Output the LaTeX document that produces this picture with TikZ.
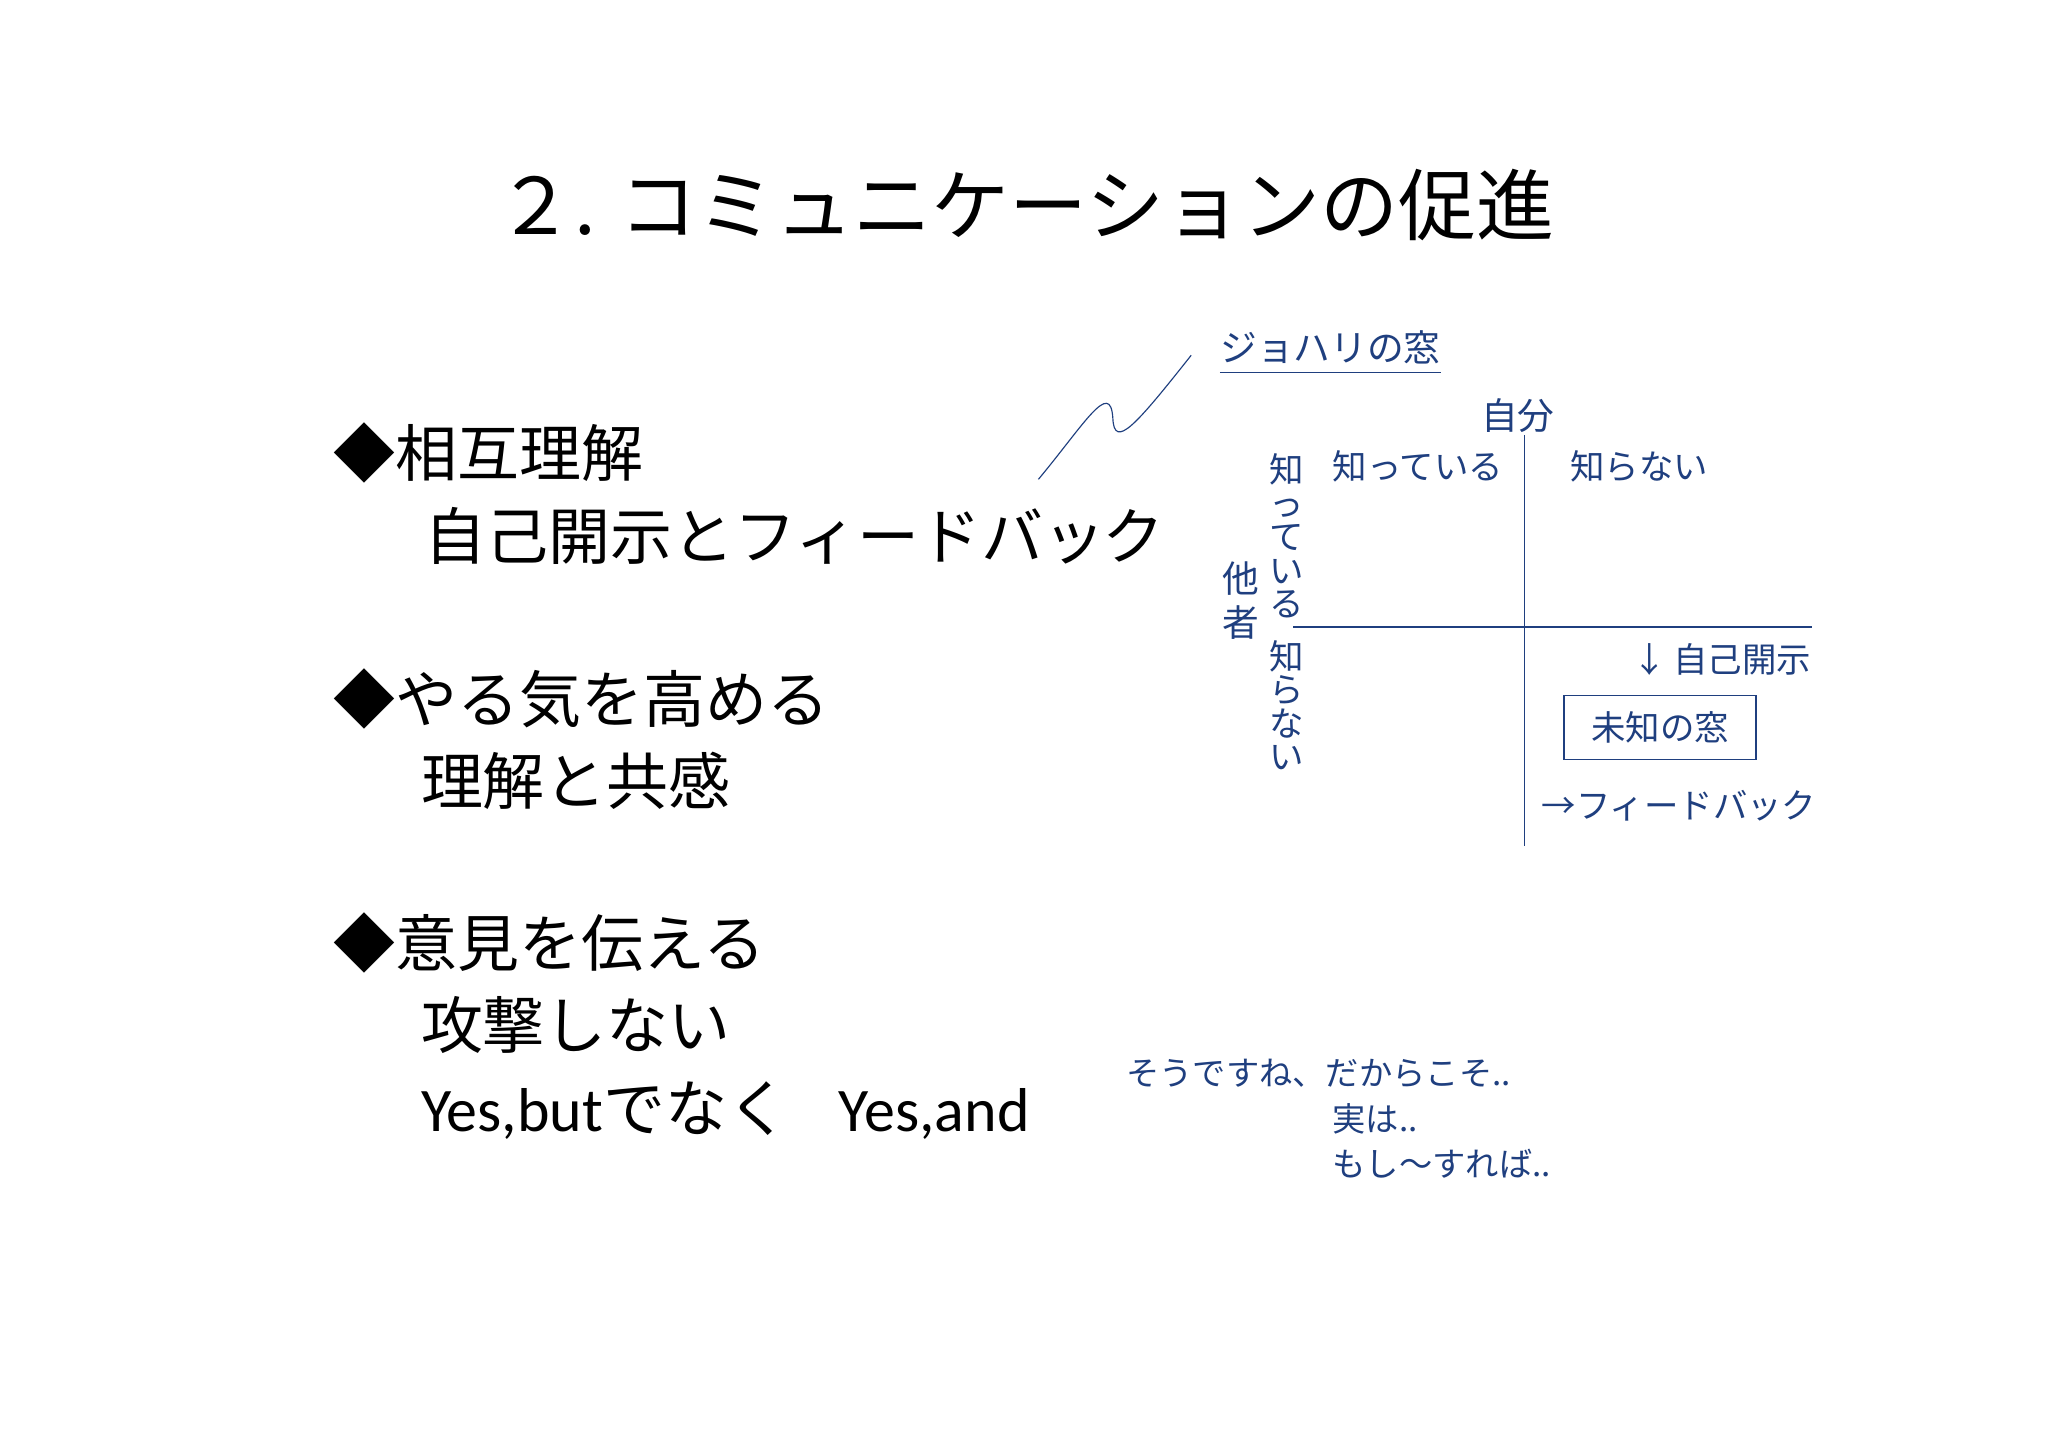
\documentclass[tikz,border=0pt]{standalone}
\usepackage{fontspec}
\usetikzlibrary{calc}
\setmainfont{Noto Sans CJK JP}
\newfontfamily\lat{Carlito}
\definecolor{jb}{HTML}{1F3F7F}
\begin{document}
\begin{tikzpicture}[x=0.02cm,y=-0.02cm,
  big/.style={inner sep=0,anchor=west,font=\fontsize{27}{30}\selectfont},
  blu/.style={inner sep=0,text=jb,font=\fontsize{15}{17}\selectfont},
  vert/.style={inner sep=0,text=jb,align=center,font=\fontsize{15}{14.6}\selectfont}]
\useasboundingbox[fill=white] (0,0) rectangle (1568,1109);
\node[inner sep=0,font=\fontsize{34}{40}\selectfont] (title) at (785,157) {２. コミュニケーションの促進};
\node[big] (a1) at (255,347) {◆相互理解};
\node[big] (a2) at (325,410) {自己開示とフィードバッ\hspace{-0.05em}ク};
\node[big] (b1) at (255,535) {◆やる気を高める};
\node[big] (b2) at (322,598) {理解と共感};
\node[big] (c1) at (255,722) {◆意見を伝える};
\node[big] (c2) at (322,785) {攻撃しない};
\node[big] (c3) at (322,850) {{\lat Yes,but}でなく\hspace{0.8em}{\lat Yes,and}};
% Johari
\node[blu,anchor=west,font=\fontsize{16}{18}\selectfont] (jt) at (934,266) {ジョハリの窓};
\draw[jb,line width=0.8pt] ($(jt.south west)+(0,6)$) -- ($(jt.south east)+(0,6)$);
\coordinate (s0) at (795,367); \coordinate (s1) at (912,272);
\draw[jb,line width=0.5pt] (s0) .. controls (830,325) and (850,290) .. (852,320)
  .. controls (853,345) and (870,325) .. (s1);
\node[blu,font=\fontsize{16}{18}\selectfont] (me) at (1162,318) {自分};
\coordinate (vt) at (1167,333); \coordinate (vb) at (1167,648);
\coordinate (hl) at (990,480); \coordinate (hr) at (1387,480);
\draw[jb,line width=0.6pt] (vt) -- (vb);
\draw[jb,line width=0.6pt] (hl) -- (hr);
\node[blu,anchor=west] (k1) at (1020,357) {知っている};
\node[blu,anchor=west] (k2) at (1202,357) {知らない};
\node[vert,anchor=north] (v1) at (985,347) {知\\っ\\て\\い\\る};
\node[vert,anchor=north] (v2) at (985,490) {知\\ら\\な\\い};
\node[vert,anchor=north,font=\fontsize{16}{19}\selectfont] (ot) at (950,430) {他\\者};
\node[blu,anchor=east] (jk) at (1387,505) {↓\hspace{0.2em}自己開示};
\node[blu,draw=jb,line width=0.6pt,minimum width=147*0.02cm,minimum height=49*0.02cm] (mw) at (1271,557) {未知の窓};
\node[blu,anchor=west] (fb) at (1180,617) {→フィードバック};
\node[blu,anchor=west,font=\fontsize{14.5}{16}\selectfont] (q1) at (862,822) {そうですね、だからこそ..};
\node[blu,anchor=west,font=\fontsize{14.5}{16}\selectfont] (q2) at (1020,857) {実は..};
\node[blu,anchor=west,font=\fontsize{14.5}{16}\selectfont] (q3) at (1020,891) {もし～すれば..};
\end{tikzpicture}
\end{document}
